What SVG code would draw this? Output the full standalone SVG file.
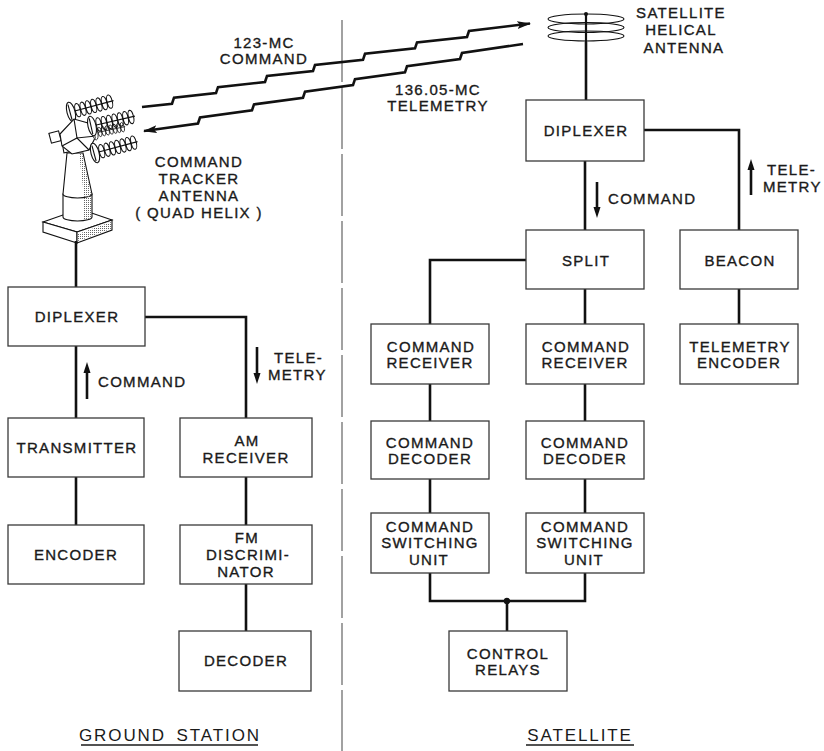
<svg xmlns="http://www.w3.org/2000/svg" width="824" height="751" viewBox="0 0 824 751">
<defs>
<style>
.box{fill:#fff;stroke:#3a3a3a;stroke-width:1.3}
.t{font-family:"Liberation Sans",Arial,sans-serif;font-size:15px;letter-spacing:1.3px;fill:#1a1a1a;stroke:#1a1a1a;stroke-width:0.35;text-anchor:middle}
.tl{font-family:"Liberation Sans",Arial,sans-serif;font-size:15px;letter-spacing:1.3px;fill:#1a1a1a;stroke:#1a1a1a;stroke-width:0.35}
.big{font-family:"Liberation Sans",Arial,sans-serif;font-size:17px;letter-spacing:1.9px;word-spacing:4px;fill:#1a1a1a;text-anchor:middle}
.wire{fill:none;stroke:#111;stroke-width:2.6}
.ant{fill:#fff;stroke:#111;stroke-width:1.1}
.coil{fill:none;stroke:#111;stroke-width:1.1}
.arr{fill:#111;stroke:none}
</style>
<pattern id="dots" width="2" height="2" patternUnits="userSpaceOnUse"><rect width="1" height="1" fill="#666"/></pattern>
<marker id="ah" viewBox="0 0 14 8" refX="13" refY="4" markerWidth="14" markerHeight="8" markerUnits="userSpaceOnUse" orient="auto-start-reverse"><path d="M0,0 L14,4 L0,8 L3,4 Z" fill="#111"/></marker>
<g id="helix">
<line x1="0" y1="0" x2="44" y2="0" class="coil"/>
<ellipse cx="7" cy="0" rx="2.6" ry="6.8" class="coil"/>
<ellipse cx="12.5" cy="0" rx="2.6" ry="6.8" class="coil"/>
<ellipse cx="18" cy="0" rx="2.6" ry="6.8" class="coil"/>
<ellipse cx="23.5" cy="0" rx="2.6" ry="6.8" class="coil"/>
<ellipse cx="29" cy="0" rx="2.6" ry="6.8" class="coil"/>
<ellipse cx="34.5" cy="0" rx="2.6" ry="6.8" class="coil"/>
<ellipse cx="40" cy="0" rx="2.6" ry="6.8" class="coil"/>
<ellipse cx="0" cy="0" rx="4" ry="10" class="ant"/>
<line x1="-1" y1="-8" x2="-1" y2="8" class="coil"/>
</g>
</defs>
<rect width="824" height="751" fill="#fff"/>

<line x1="342" y1="20" x2="342" y2="751" stroke="#555" stroke-width="1.1" stroke-dasharray="62 5"/>

<g id="radio-links">
<polyline class="wire" stroke-width="3" marker-end="url(#ah)" points="142,107 172,103.7 174,97.7 216,93.1 218,87.1 265,82 267,76 313,71 315,65 363,59.8 365,53.8 415,48.4 417,42.4 467,37 469,31 530,23.5"/>
<polyline class="wire" stroke-width="1.7" marker-start="url(#ah)" points="144,131 198,123.5 200,117.5 252,110.4 254,104.4 303,97.7 305,91.7 353,85.1 355,79.1 405,72.3 407,66.3 460,59 462,53 523,44"/>
<text class="t" x="264" y="48">123-MC</text>
<text class="t" x="264" y="64">COMMAND</text>
<text class="t" x="438" y="95">136.05-MC</text>
<text class="t" x="438" y="111">TELEMETRY</text>
</g>

<g id="ground-antenna">
<polygon class="ant" points="43,222 80,209 112,220 77,232"/>
<polygon class="ant" points="43,222 77,232 77,243 43,232"/>
<polygon class="ant" points="77,232 112,220 112,230 77,243"/>
<polygon fill="url(#dots)" points="78,234 111,222 111,229 78,241"/>
<path class="ant" d="M63,194 L63,217 A14.5,4 0 0 0 92,217 L92,194 Z"/>
<path class="ant" d="M67,153 L63,194 A14.5,4 0 0 0 92,194 L83,153 Z"/>
<polygon fill="url(#dots)" points="79,153 82,153 91,194 91,218 84,220 84,196"/>
<rect class="ant" x="50" y="132" width="10" height="10" transform="rotate(-15 55 137)"/>
<rect class="ant" x="63" y="143" width="10" height="9" transform="rotate(-10 68 147)"/>
<use href="#helix" transform="translate(71,112) rotate(-15)"/>
<polygon class="ant" points="60,134 74,119 88,123 96,136 89,150 72,154 62,146"/>
<polyline class="coil" points="62,146 77,138 89,150"/>
<polyline class="coil" points="74,119 77,138 96,136"/>
<use href="#helix" transform="translate(95,133) rotate(-12) scale(0.7)"/>
<use href="#helix" transform="translate(92,126) rotate(-13)"/>
<use href="#helix" transform="translate(95,153) rotate(-15)"/>
<text class="t" x="199" y="167">COMMAND</text>
<text class="t" x="199" y="184">TRACKER</text>
<text class="t" x="199" y="201">ANTENNA</text>
<text class="t" x="199" y="218" letter-spacing="1.9">( QUAD HELIX )</text>
</g>

<g id="sat-antenna">
<ellipse cx="586" cy="19" rx="38" ry="5" class="coil" stroke-width="1.5"/>
<ellipse cx="586" cy="27.5" rx="38" ry="5" class="coil" stroke-width="1.5"/>
<ellipse cx="586" cy="36" rx="38" ry="5" class="coil" stroke-width="1.5"/>
<line x1="586" y1="13" x2="586" y2="42" stroke="#111" stroke-width="2.2"/>
<circle cx="586" cy="14" r="2" fill="#111"/>
<text class="t" x="681" y="18">SATELLITE</text>
<text class="t" x="681" y="35">HELICAL</text>
<text class="t" x="684" y="53">ANTENNA</text>
</g>

<g id="connectors">
<path class="wire" d="M76,241 V287"/>
<path class="wire" d="M76,346 V418"/>
<path class="wire" d="M145,317 H246 V418"/>
<path class="wire" d="M76,477 V525"/>
<path class="wire" d="M246,477 V525"/>
<path class="wire" d="M246,584 V631"/>
<path class="wire" d="M586,42 V100"/>
<path class="wire" d="M585,161 V230"/>
<path class="wire" d="M644,130 H739 V230"/>
<path class="wire" d="M526,260 H430 V324"/>
<path class="wire" d="M585,289 V324"/>
<path class="wire" d="M739,289 V324"/>
<path class="wire" d="M430,384 V421"/>
<path class="wire" d="M430,479 V513"/>
<path class="wire" d="M585,384 V421"/>
<path class="wire" d="M585,479 V513"/>
<path class="wire" d="M430,573 V601 H585 V573"/>
<path class="wire" d="M507,601 V631"/>
<circle cx="507" cy="601" r="3.2" fill="#111"/>
</g>

<g id="flow-labels">
<path class="wire" stroke-width="3" d="M87,399 V371"/>
<path class="arr" d="M87,362 L83.5,373 L90.5,373 Z"/>
<text class="tl" x="98" y="387">COMMAND</text>
<path class="wire" stroke-width="3" d="M257,347 V375"/>
<path class="arr" d="M257,384 L253.5,373 L260.5,373 Z"/>
<text class="tl" x="274" y="363">TELE-</text>
<text class="tl" x="268" y="380">METRY</text>
<path class="wire" stroke-width="3" d="M597,182 V209"/>
<path class="arr" d="M597,218 L593.5,207 L600.5,207 Z"/>
<text class="tl" x="608" y="204">COMMAND</text>
<path class="wire" stroke-width="3" d="M751,195 V168"/>
<path class="arr" d="M751,159 L747.5,170 L754.5,170 Z"/>
<text class="tl" x="767" y="175">TELE-</text>
<text class="tl" x="763" y="192">METRY</text>
</g>

<g id="g-diplexer"><rect class="box" x="8" y="287" width="137" height="59"/><text class="t" x="77" y="322">DIPLEXER</text></g>
<g id="g-transmitter"><rect class="box" x="8" y="418" width="136" height="59"/><text class="t" x="77" y="453">TRANSMITTER</text></g>
<g id="g-encoder"><rect class="box" x="8" y="525" width="136" height="59"/><text class="t" x="76" y="560">ENCODER</text></g>
<g id="g-am-receiver"><rect class="box" x="180" y="418" width="132" height="59"/><text class="t" x="247" y="446">AM</text><text class="t" x="246" y="463">RECEIVER</text></g>
<g id="g-fm-discriminator"><rect class="box" x="180" y="525" width="132" height="59"/><text class="t" x="247" y="543">FM</text><text class="t" x="248" y="560">DISCRIMI-</text><text class="t" x="246" y="577">NATOR</text></g>
<g id="g-decoder"><rect class="box" x="179" y="631" width="132" height="60"/><text class="t" x="246" y="666">DECODER</text></g>

<g id="s-diplexer"><rect class="box" x="526" y="100" width="118" height="61"/><text class="t" x="586" y="136">DIPLEXER</text></g>
<g id="s-split"><rect class="box" x="526" y="230" width="118" height="59"/><text class="t" x="586" y="266">SPLIT</text></g>
<g id="s-beacon"><rect class="box" x="680" y="230" width="118" height="59"/><text class="t" x="740" y="266">BEACON</text></g>
<g id="s-cmd-receiver-1"><rect class="box" x="371" y="324" width="118" height="60"/><text class="t" x="431" y="352">COMMAND</text><text class="t" x="430" y="368">RECEIVER</text></g>
<g id="s-cmd-receiver-2"><rect class="box" x="526" y="324" width="118" height="60"/><text class="t" x="586" y="352">COMMAND</text><text class="t" x="585" y="368">RECEIVER</text></g>
<g id="s-telemetry-encoder"><rect class="box" x="680" y="324" width="118" height="60"/><text class="t" x="740" y="352">TELEMETRY</text><text class="t" x="739" y="368">ENCODER</text></g>
<g id="s-cmd-decoder-1"><rect class="box" x="371" y="421" width="118" height="58"/><text class="t" x="430" y="448">COMMAND</text><text class="t" x="430" y="464">DECODER</text></g>
<g id="s-cmd-decoder-2"><rect class="box" x="526" y="421" width="118" height="58"/><text class="t" x="585" y="448">COMMAND</text><text class="t" x="585" y="464">DECODER</text></g>
<g id="s-cmd-switching-1"><rect class="box" x="371" y="513" width="118" height="60"/><text class="t" x="430" y="532">COMMAND</text><text class="t" x="430" y="548">SWITCHING</text><text class="t" x="429" y="565">UNIT</text></g>
<g id="s-cmd-switching-2"><rect class="box" x="526" y="513" width="118" height="60"/><text class="t" x="585" y="532">COMMAND</text><text class="t" x="585" y="548">SWITCHING</text><text class="t" x="584" y="565">UNIT</text></g>
<g id="s-control-relays"><rect class="box" x="449" y="631" width="118" height="60"/><text class="t" x="508" y="659">CONTROL</text><text class="t" x="508" y="675">RELAYS</text></g>

<g id="section-labels">
<text class="big" x="170" y="741">GROUND STATION</text>
<line x1="81" y1="745" x2="258" y2="745" stroke="#1a1a1a" stroke-width="1.6"/>
<text class="big" x="580" y="741">SATELLITE</text>
<line x1="526" y1="745" x2="634" y2="745" stroke="#1a1a1a" stroke-width="1.6"/>
</g>
</svg>
